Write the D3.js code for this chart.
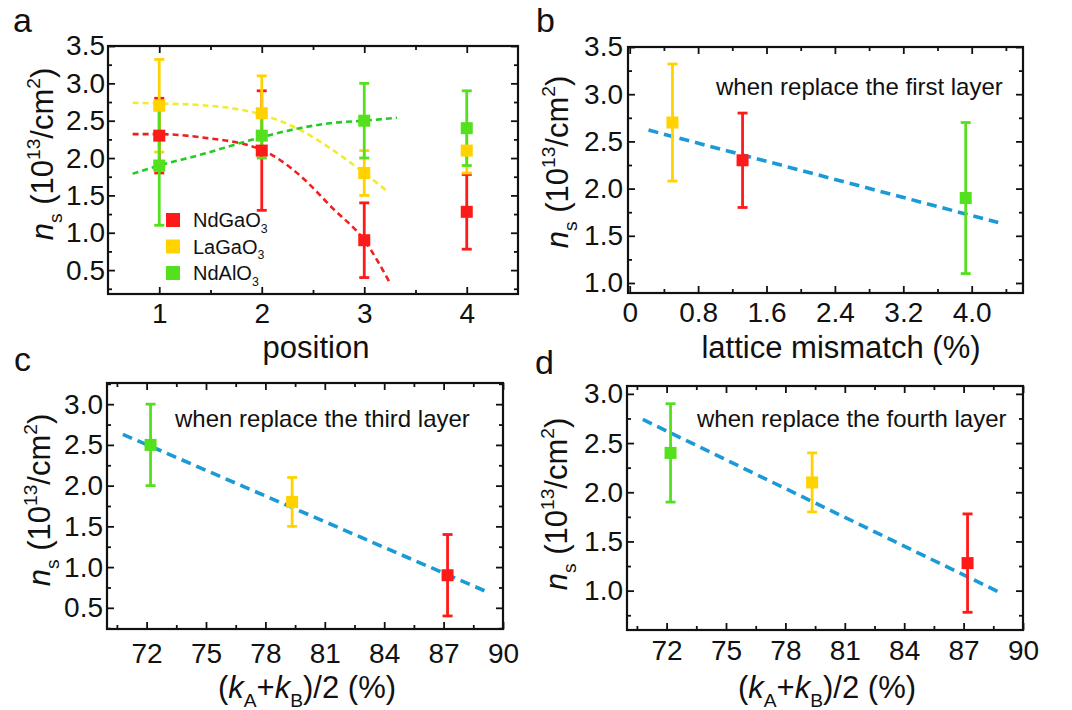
<!DOCTYPE html>
<html>
<head>
<meta charset="utf-8">
<script src="https://cdn.jsdelivr.net/npm/d3@7"></script>
<style>
  body { margin: 0; background: #fff; }
  svg { font-family: Arial, "Liberation Sans", sans-serif; }
  text { white-space: pre; }
</style>
</head>
<body>
<svg id="fig" width="1072" height="710"></svg>
<script>
// ---- data ----
var seriesNames = ["NdGaO3", "LaGaO3", "NdAlO3"];
var positions = [1, 2, 3, 4];

// n_s values by position (first..fourth layer replaced)
var ndgao3 = [2.3, 2.1, 0.9, 1.28];
var ndgao3Err = [0.5, 0.8, 0.5, 0.5];
var lagao3 = [2.7, 2.6, 1.8, 2.1];
var lagao3Err = [0.62, 0.5, 0.3, 0.3];
var ndalo3 = [1.9, 2.3, 2.5, 2.4];
var ndalo3Err = [0.8, 0.3, 0.5, 0.5];

// dashed guide curves in panel a: [position, n_s]
var guideNdGaO3 = [[0.74, 2.32], [1, 2.32], [1.39, 2.28], [2, 2.11], [2.37, 1.77], [2.69, 1.33], [3, 0.9], [3.25, 0.33]];
var guideLaGaO3 = [[0.74, 2.74], [1, 2.73], [1.39, 2.71], [2, 2.58], [2.37, 2.38], [2.69, 2.11], [3, 1.8], [3.23, 1.55]];
var guideNdAlO3 = [[0.74, 1.79], [1, 1.9], [1.39, 2.04], [2, 2.28], [2.37, 2.4], [2.69, 2.47], [3, 2.5], [3.32, 2.54]];

// lattice mismatch (%) and (kA+kB)/2 (%) for NdGaO3, LaGaO3, NdAlO3
var mismatch = [1.32, 0.5, 3.93];
var kAverage = [87.2, 79.35, 72.2];

// linear fits: [x, n_s] end points
var fitFirst = [[0.22, 2.62], [4.31, 1.64]];
var fitThird = [[70.8, 2.63], [89.25, 0.69]];
var fitFourth = [[70.8, 2.74], [88.95, 0.97]];

// ---- styling ----
var colors = ["#ff1a1a", "#ffd200", "#55e01e"];
var guideColors = ["#ee2020", "#f2ec2e", "#22cc22"];
var fitColor = "#1b9ad6";
var tickFont = 28, titleFont = 31;

var svg = d3.select("#fig");

function rich(sel, parts, size) {
    var cur = 0;
    parts.forEach(function(p) {
        var shift = p.s === "sub" ? 0.28 * size : (p.s === "sup" ? -0.42 * size : 0);
        sel.append("tspan")
            .attr("dy", shift - cur)
            .attr("font-size", p.s ? size * 0.62 : size)
            .attr("font-style", p.i ? "italic" : null)
            .text(p.t);
        cur = shift;
    });
}

var yTitle = [{t: "n", i: true}, {t: "s", s: "sub"}, {t: " (10"}, {t: "13", s: "sup"},
              {t: "/cm"}, {t: "2", s: "sup"}, {t: ")"}];
var kTitle = [{t: "("}, {t: "k", i: true}, {t: "A", s: "sub"}, {t: "+"}, {t: "k", i: true},
              {t: "B", s: "sub"}, {t: ")/2 (%)"}];

function d3range(a, b, step) {
    var out = [];
    for (var v = a; v <= b + 1e-9; v += step) out.push(+v.toFixed(4));
    return out;
}

function makePanel(p) {
    var g = svg.append("g").attr("transform", "translate(" + p.left + "," + p.top + ")");
    var w = p.right - p.left, h = p.bottom - p.top;
    var x = d3.scaleLinear().domain(p.xDomain).range([0, w]);
    var y = d3.scaleLinear().domain(p.yDomain).range([h, 0]);

    function addAxis(axis, tf) {
        var a = g.append("g").attr("transform", tf || null).call(axis);
        a.select(".domain").remove();
        a.selectAll("line").attr("stroke", "#111").attr("stroke-width", 1.8);
        a.selectAll("text").attr("font-size", tickFont).attr("fill", "#111").attr("font-family", null);
        return a;
    }
    // major + minor ticks, inward, on all four sides
    addAxis(d3.axisBottom(x).tickValues(p.xMajor).tickSize(-7).tickSizeOuter(0)
        .tickPadding(p.xPad).tickFormat(p.xFmt), "translate(0," + h + ")");
    addAxis(d3.axisBottom(x).tickValues(p.xMinor).tickSize(-4).tickSizeOuter(0).tickFormat(""), "translate(0," + h + ")");
    addAxis(d3.axisTop(x).tickValues(p.xMajor).tickSize(-7).tickSizeOuter(0).tickFormat(""));
    addAxis(d3.axisTop(x).tickValues(p.xMinor).tickSize(-4).tickSizeOuter(0).tickFormat(""));
    addAxis(d3.axisLeft(y).tickValues(p.yMajor).tickSize(-7).tickSizeOuter(0)
        .tickPadding(p.yPad).tickFormat(d3.format(".1f")));
    addAxis(d3.axisLeft(y).tickValues(p.yMinor).tickSize(-4).tickSizeOuter(0).tickFormat(""));
    addAxis(d3.axisRight(y).tickValues(p.yMajor).tickSize(-7).tickSizeOuter(0).tickFormat(""), "translate(" + w + ",0)");
    addAxis(d3.axisRight(y).tickValues(p.yMinor).tickSize(-4).tickSizeOuter(0).tickFormat(""), "translate(" + w + ",0)");

    g.append("rect").attr("width", w).attr("height", h)
        .attr("fill", "none").attr("stroke", "#111").attr("stroke-width", 2.2);

    // titles
    var yt = svg.append("text")
        .attr("transform", "translate(" + (p.left - p.yTitleOff) + "," + p.yTitleMid + ") rotate(-90)")
        .attr("text-anchor", "middle").attr("fill", "#111");
    rich(yt, yTitle, titleFont);
    var xt = svg.append("text")
        .attr("x", p.xTitleMid).attr("y", p.xTitleBase)
        .attr("text-anchor", "middle").attr("fill", "#111");
    rich(xt, p.xTitle, titleFont);

    svg.append("text").attr("x", p.letter[1]).attr("y", p.letter[2])
        .attr("font-size", 34).attr("fill", "#111").text(p.letter[0]);

    if (p.note) {
        svg.append("text").attr("x", p.note[1]).attr("y", p.note[2])
            .attr("font-size", 24).attr("fill", "#111").text(p.note[0]);
    }
    return {g: g, x: x, y: y};
}

function drawErr(panel, xs, ys, errs, color, cap) {
    var g = panel.g.append("g");
    xs.forEach(function(xv, i) {
        var cx = panel.x(xv);
        var y0 = panel.y(ys[i] - errs[i]), y1 = panel.y(ys[i] + errs[i]);
        g.append("line").attr("x1", cx).attr("x2", cx).attr("y1", y0).attr("y2", y1)
            .attr("stroke", color).attr("stroke-width", 2.8);
        [y0, y1].forEach(function(yy) {
            g.append("line").attr("x1", cx - cap / 2).attr("x2", cx + cap / 2)
                .attr("y1", yy).attr("y2", yy).attr("stroke", color).attr("stroke-width", 2.8);
        });
    });
}

function drawMarks(panel, xs, ys, color, size) {
    panel.g.append("g").selectAll("rect").data(xs).enter().append("rect")
        .attr("x", function(d) { return panel.x(d) - size / 2; })
        .attr("y", function(d, i) { return panel.y(ys[i]) - size / 2; })
        .attr("width", size).attr("height", size).attr("fill", color);
}

function drawFit(panel, pts, color, width, dash, curve) {
    var line = d3.line().x(function(d) { return panel.x(d[0]); })
        .y(function(d) { return panel.y(d[1]); }).curve(curve || d3.curveLinear);
    panel.g.append("path").datum(pts).attr("d", line)
        .attr("fill", "none").attr("stroke", color).attr("stroke-width", width)
        .attr("stroke-dasharray", dash);
}

// ---- panel a ----
var pa = makePanel({
    left: 108, top: 46, right: 518, bottom: 294,
    xDomain: [0.5, 4.5], yDomain: [0.18, 3.5],
    xMajor: [1, 2, 3, 4], xMinor: [1.5, 2.5, 3.5],
    yMajor: d3range(0.5, 3.5, 0.5), yMinor: d3range(0.25, 3.25, 0.5),
    xFmt: d3.format("d"), xPad: 9, yPad: 3,
    yTitleOff: 55, yTitleMid: 154, xTitle: [{t: "position"}], xTitleMid: 316, xTitleBase: 358,
    letter: ["a", 13, 32]
});
var valsA = [ndgao3, lagao3, ndalo3];
var errsA = [ndgao3Err, lagao3Err, ndalo3Err];
var guidesA = [guideNdGaO3, guideLaGaO3, guideNdAlO3];
[0, 1, 2].forEach(function(k) {
    drawFit(pa, guidesA[k], guideColors[k], 2.6, "6,4", d3.curveMonotoneX);
});
[0, 1, 2].forEach(function(k) { drawErr(pa, positions, valsA[k], errsA[k], colors[k], 10); });
[2, 1, 0].forEach(function(k) { drawMarks(pa, positions, valsA[k], colors[k], 12); });

// legend
var leg = svg.append("g");
seriesNames.forEach(function(name, i) {
    var cy = 220 + i * 26.5;
    leg.append("rect").attr("x", 166).attr("y", cy - 7).attr("width", 14).attr("height", 14)
        .attr("fill", colors[i]);
    var t = leg.append("text").attr("x", 193).attr("y", cy + 7).attr("fill", "#111");
    rich(t, [{t: name.slice(0, -1)}, {t: name.slice(-1), s: "sub"}], 20);
});

// ---- panel b ----
var pb = makePanel({
    left: 628, top: 47, right: 1023, bottom: 293,
    xDomain: [-0.02, 4.6], yDomain: [0.894, 3.5],
    xMajor: [0, 0.8, 1.6, 2.4, 3.2, 4.0], xMinor: [0.4, 1.2, 2.0, 2.8, 3.6, 4.4],
    yMajor: d3range(1.0, 3.5, 0.5), yMinor: d3range(1.25, 3.25, 0.5),
    xFmt: function(d) { return d === 0 ? "0" : d3.format(".1f")(d); }, xPad: 9, yPad: 5,
    yTitleOff: 60, yTitleMid: 162, xTitle: [{t: "lattice mismatch (%)"}], xTitleMid: 841, xTitleBase: 358,
    letter: ["b", 536, 32], note: ["when replace the first layer", 716, 95]
});
drawFit(pb, fitFirst, fitColor, 3.6, "10,6");
var first = valsA.map(function(v) { return v[0]; });
var firstErr = errsA.map(function(v) { return v[0]; });
[0, 1, 2].forEach(function(k) {
    drawErr(pb, [mismatch[k]], [first[k]], [firstErr[k]], colors[k], 10);
    drawMarks(pb, [mismatch[k]], [first[k]], colors[k], 12);
});

// ---- panel c ----
var pc = makePanel({
    left: 107, top: 383, right: 503, bottom: 629,
    xDomain: [70, 90], yDomain: [0.24, 3.26],
    xMajor: d3range(72, 90, 3), xMinor: d3range(70.5, 88.5, 3),
    yMajor: d3range(0.5, 3.0, 0.5), yMinor: d3range(0.25, 3.25, 0.5),
    xFmt: d3.format("d"), xPad: 14, yPad: 4,
    yTitleOff: 57, yTitleMid: 500, xTitle: kTitle, xTitleMid: 307, xTitleBase: 698,
    letter: ["c", 14, 371], note: ["when replace the third layer", 175, 427]
});
drawFit(pc, fitThird, fitColor, 3.6, "10,6");
var third = valsA.map(function(v) { return v[2]; });
var thirdErr = errsA.map(function(v) { return v[2]; });
[0, 1, 2].forEach(function(k) {
    drawErr(pc, [kAverage[k]], [third[k]], [thirdErr[k]], colors[k], 10);
    drawMarks(pc, [kAverage[k]], [third[k]], colors[k], 12);
});

// ---- panel d ----
var pd = makePanel({
    left: 627, top: 386, right: 1023, bottom: 630,
    xDomain: [70, 90], yDomain: [0.6, 3.08],
    xMajor: d3range(72, 90, 3), xMinor: d3range(70.5, 88.5, 3),
    yMajor: d3range(1.0, 3.0, 0.5), yMinor: d3range(0.75, 2.75, 0.5),
    xFmt: d3.format("d"), xPad: 10, yPad: 4,
    yTitleOff: 60, yTitleMid: 504, xTitle: kTitle, xTitleMid: 827, xTitleBase: 698,
    letter: ["d", 535, 374], note: ["when replace the fourth layer", 697, 427]
});
drawFit(pd, fitFourth, fitColor, 3.6, "10,6");
var fourth = valsA.map(function(v) { return v[3]; });
var fourthErr = errsA.map(function(v) { return v[3]; });
[0, 1, 2].forEach(function(k) {
    drawErr(pd, [kAverage[k]], [fourth[k]], [fourthErr[k]], colors[k], 10);
    drawMarks(pd, [kAverage[k]], [fourth[k]], colors[k], 12);
});
</script>
</body>
</html>
